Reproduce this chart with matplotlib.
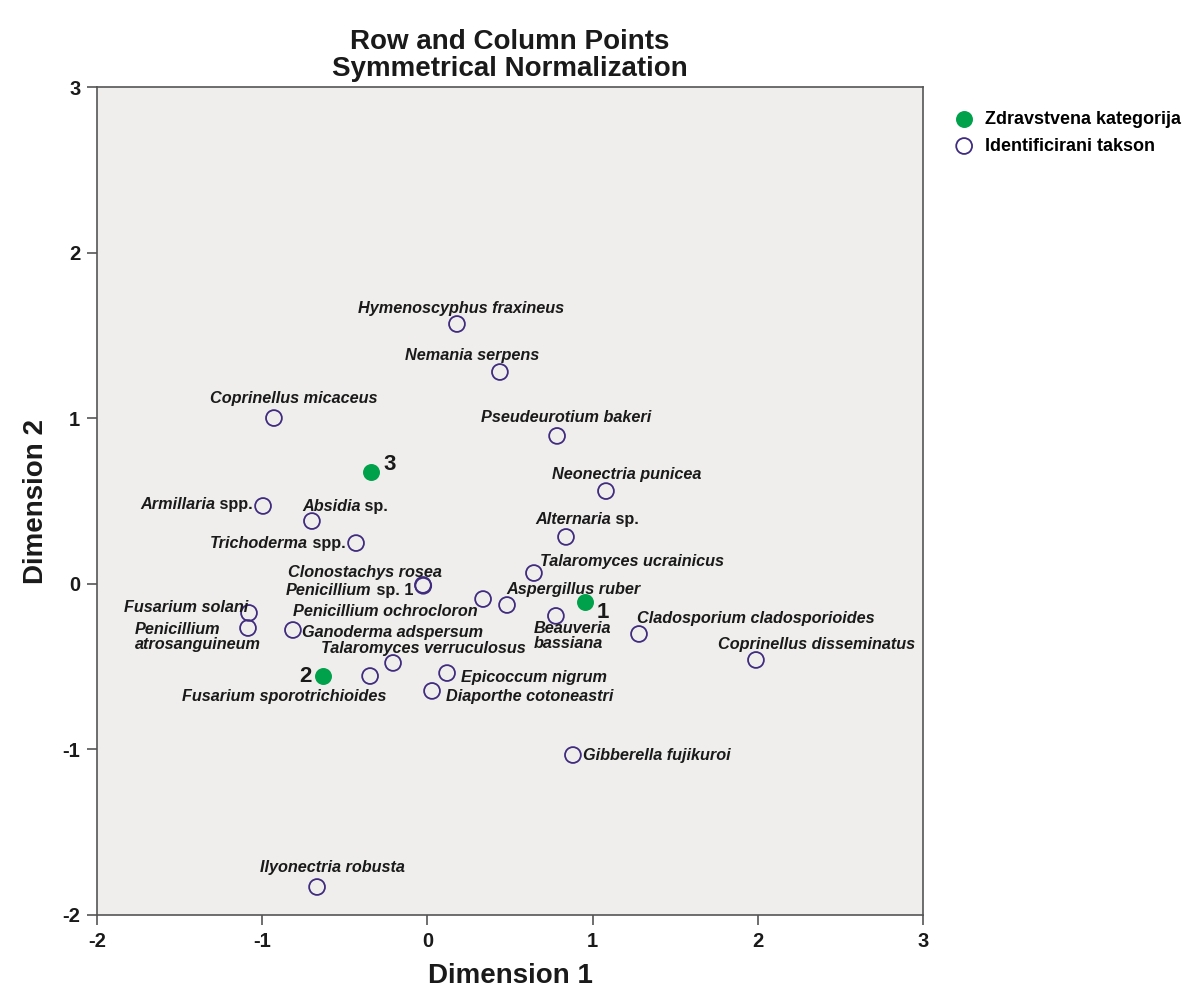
import matplotlib
matplotlib.use("Agg")
import matplotlib.pyplot as plt
import re

plt.rcParams["font.family"] = ["Liberation Sans", "DejaVu Sans"]
plt.rcParams["axes.unicode_minus"] = False

# identified taxa (column points)
taxa = [
    "Hymenoscyphus fraxineus", "Nemania serpens", "Coprinellus micaceus",
    "Pseudeurotium bakeri", "Neonectria punicea", "Armillaria spp.",
    "Absidia sp.", "Alternaria sp.", "Trichoderma spp.",
    "Talaromyces ucrainicus", "Clonostachys rosea", "Penicillium sp. 1",
    "Penicillium ochrocloron", "Aspergillus ruber", "Beauveria\nbassiana",
    "Cladosporium cladosporioides", "Coprinellus disseminatus",
    "Fusarium solani", "Penicillium\natrosanguineum", "Ganoderma adspersum",
    "Talaromyces verruculosus", "Fusarium sporotrichioides",
    "Epicoccum nigrum", "Diaporthe cotoneastri", "Gibberella fujikuroi",
    "Ilyonectria robusta",
]
taxa_x = [0.179, 0.439, -0.929, 0.785, 1.081, -0.995, -0.699, 0.839, -0.432,
          0.645, -0.027, -0.025, 0.337, 0.482, 0.778, 1.281, 1.989, -1.080,
          -1.086, -0.814, -0.208, -0.347, 0.119, 0.028, 0.881, -0.668]
taxa_y = [1.569, 1.279, 1.001, 0.893, 0.560, 0.470, 0.379, 0.283, 0.246,
          0.065, -0.007, -0.012, -0.092, -0.128, -0.194, -0.303, -0.460,
          -0.176, -0.267, -0.279, -0.478, -0.557, -0.539, -0.647, -1.034,
          -1.831]

# health categories (row points)
cats = ["1", "2", "3"]
cats_x = [0.954, -0.632, -0.341]
cats_y = [-0.110, -0.557, 0.675]

# label placement: (dx, dy, ha) in pixels from the point
taxa_offsets = [
    (4, 16, "center"), (-28, 17, "center"), (20, 20, "center"),
    (9, 18, "center"), (21, 17, "center"), (-10, 1, "right"),
    (-10, 15, "left"), (-31, 17, "left"), (-10, 0, "right"),
    (6, 12, "left"), (-135, 12, "left"), (-10, -5, "right"),
    (-5, -12, "right"), (-1, 16, "left"), (-22, -20, "left"),
    (-2, 15, "left"), (-38, 15, "left"),
    (-1, 5, "right"), (-113, -9, "left"), (9, -2, "left"),
    (30, 14, "center"), (-86, -20, "center"),
    (14, -4, "left"), (14, -6, "left"), (10, 0, "left"),
    (15, 20, "center"),
]
cats_offsets = [(18, -10), (-18, 0), (19, 8)]

green = "#00a14b"
purple = "#3f2c7e"
bg = "#f0eeec"
ink = "#1a1a1a"

fig = plt.figure(figsize=(11.92, 9.88), dpi=100)
ax = fig.add_axes([0.0814, 0.0739, 0.6929, 0.838])
ax.set_facecolor(bg)

ax.scatter(cats_x, cats_y, s=125, color=green, edgecolors=green,
           linewidths=1, zorder=3, label="Zdravstvena kategorija")
ax.scatter(taxa_x, taxa_y, s=130, facecolors="none", edgecolors=purple,
           linewidths=1.3, zorder=3, label="Identificirani takson")

label_size = 11.7


def put_label(x, y, text, dx, dy, ha):
    # genus in italic, "sp."/"spp." upright
    m = re.match(r"^(.*?)( spp?\..*)$", text)
    if m:
        genus, rest = m.group(1), m.group(2)
        if ha == "right":
            t2 = ax.annotate(rest, xy=(x, y), xytext=(dx, dy),
                             textcoords="offset pixels", ha="right",
                             va="center", fontsize=label_size,
                             fontweight="bold", color=ink)
            ax.annotate(genus, xy=(0, 0), xycoords=t2, ha="right",
                        va="bottom", fontsize=label_size, fontweight="bold",
                        fontstyle="italic", color=ink)
        else:
            t1 = ax.annotate(genus, xy=(x, y), xytext=(dx, dy),
                             textcoords="offset pixels", ha="left",
                             va="center", fontsize=label_size,
                             fontweight="bold", fontstyle="italic",
                             color=ink)
            ax.annotate(rest, xy=(1, 0), xycoords=t1, ha="left",
                        va="bottom", fontsize=label_size, fontweight="bold",
                        color=ink)
    else:
        ax.annotate(text, xy=(x, y), xytext=(dx, dy),
                    textcoords="offset pixels", ha=ha, va="center",
                    multialignment="left", linespacing=0.95,
                    fontsize=label_size, fontweight="bold",
                    fontstyle="italic", color=ink)


for name, x, y, (dx, dy, ha) in zip(taxa, taxa_x, taxa_y, taxa_offsets):
    put_label(x, y, name, dx, dy, ha)

for name, x, y, (dx, dy) in zip(cats, cats_x, cats_y, cats_offsets):
    ax.annotate(name, xy=(x, y), xytext=(dx, dy), textcoords="offset pixels",
                ha="center", va="center", fontsize=16, fontweight="bold",
                color=ink)

ax.set_xlim(-2, 3)
ax.set_ylim(-2, 3)
ax.set_xticks([-2, -1, 0, 1, 2, 3])
ax.set_yticks([-2, -1, 0, 1, 2, 3])
ax.tick_params(direction="out", length=7, width=1.2, color="#555555",
               labelsize=14.5, pad=5, labelcolor=ink)
for lab in ax.get_xticklabels() + ax.get_yticklabels():
    lab.set_fontweight("bold")
for sp in ax.spines.values():
    sp.set_color("#555555")
    sp.set_linewidth(1.2)

ax.set_xlabel("Dimension 1", fontsize=20, fontweight="bold", labelpad=9,
              color=ink)
ax.set_ylabel("Dimension 2", fontsize=20, fontweight="bold", labelpad=10,
              color=ink)
ax.set_title("Row and Column Points\nSymmetrical Normalization",
             fontsize=20, fontweight="bold", pad=8, linespacing=1.05,
             color=ink)

ax.legend(loc="upper left", bbox_to_anchor=(1.028, 0.98), frameon=False,
          prop={"weight": "bold", "size": 13},
          handletextpad=0.55, labelspacing=0.55, borderaxespad=0,
          handlelength=1.2)

fig.savefig("out.png", dpi=100, facecolor="white")
